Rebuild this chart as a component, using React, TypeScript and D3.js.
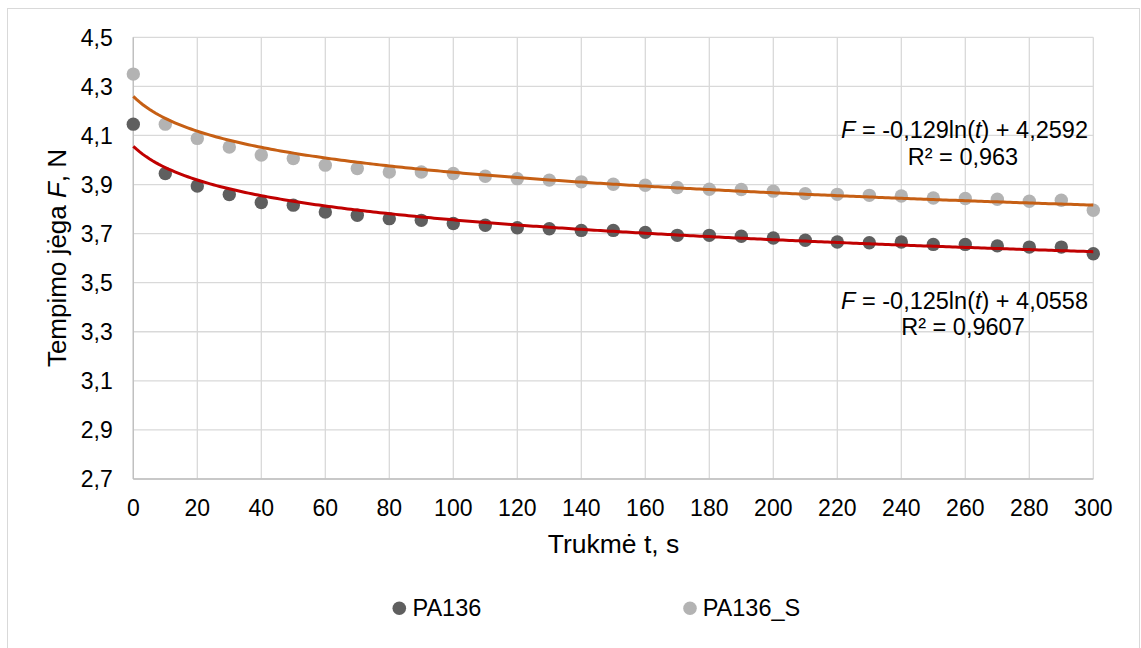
import React from "react";
import * as d3 from "d3";

const times = [0, 10, 20, 30, 40, 50, 60, 70, 80, 90, 100, 110, 120, 130, 140, 150, 160, 170, 180, 190, 200, 210, 220, 230, 240, 250, 260, 270, 280, 290, 300];
const pa136 = [4.146, 3.945, 3.894, 3.859, 3.827, 3.816, 3.788, 3.775, 3.761, 3.754, 3.741, 3.734, 3.724, 3.72, 3.713, 3.713, 3.705, 3.693, 3.693, 3.689, 3.682, 3.673, 3.666, 3.663, 3.666, 3.656, 3.656, 3.65, 3.645, 3.645, 3.618];
const pa136S = [4.35, 4.146, 4.088, 4.053, 4.02, 4.006, 3.979, 3.965, 3.951, 3.951, 3.945, 3.934, 3.924, 3.918, 3.911, 3.901, 3.897, 3.888, 3.881, 3.88, 3.873, 3.863, 3.86, 3.856, 3.853, 3.845, 3.843, 3.84, 3.832, 3.836, 3.795];
const seriesNames = ["PA136", "PA136_S"];
// logarithmic trend coefficients (fit over point index 1..31): F = a ln(i) + b
const trendA = [-0.125, -0.129];
const trendB = [4.0558, 4.2592];
const eqLabels = ["-0,125ln(", "-0,129ln("];
const eqConst = ["4,0558", "4,2592"];
const r2Labels = ["R² = 0,9607", "R² = 0,963"];
const xTicks = d3.range(0, 301, 20);
const yTicks = [2.7, 2.9, 3.1, 3.3, 3.5, 3.7, 3.9, 4.1, 4.3, 4.5];

const W = 1141;
const H = 648;
const FONT = "'Liberation Sans', Arial, sans-serif";

export default function App() {
  const x = d3.scaleLinear().domain([0, 300]).range([133.3, 1093.3]);
  const y = d3.scaleLinear().domain([2.7, 4.5]).range([479, 37.3]);
  const pointColors = ["#5f5f5f", "#b3b3b3"];
  const lineColors = ["#c00000", "#c65f14"];
  const series = [pa136, pa136S];
  const fmt = (v: number) => v.toFixed(1).replace(".", ",");

  const tSamples = d3.range(0, 300.5, 1);
  const line = d3
    .line<number>()
    .x((t) => x(t))
    .y((t) => 0)
    .curve(d3.curveLinear);

  const trendPath = (k: number) =>
    d3
      .line<number>()
      .x((t) => x(t))
      .y((t) => y(trendA[k] * Math.log(t / 10 + 1) + trendB[k]))(tSamples) || "";

  const eqPos = [
    { x: 1088, y1: 309, y2: 335 },
    { x: 1088, y1: 138, y2: 165 },
  ];

  return (
    <svg width={W} height={H} style={{ position: "absolute", left: 0, top: 0, background: "#fff" }} fontFamily={FONT}>
      <rect x={7.5} y={8.5} width={1132} height={650} fill="#fff" stroke="#d9d9d9" strokeWidth={1} />
      {/* gridlines */}
      {yTicks.map((v) => (
        <line key={"gy" + v} x1={x(0)} x2={x(300)} y1={y(v)} y2={y(v)} stroke="#d9d9d9" strokeWidth={1.3} />
      ))}
      {xTicks.map((v) => (
        <line key={"gx" + v} x1={x(v)} x2={x(v)} y1={y(2.7)} y2={y(4.5)} stroke="#d9d9d9" strokeWidth={1.3} />
      ))}
      <line x1={x(0)} x2={x(0)} y1={y(2.7)} y2={y(4.5)} stroke="#bfbfbf" strokeWidth={1.3} />
      <line x1={x(0)} x2={x(300)} y1={y(2.7)} y2={y(2.7)} stroke="#bfbfbf" strokeWidth={1.3} />
      {/* tick labels */}
      {yTicks.map((v) => (
        <text key={"ty" + v} x={112.7} y={y(v) + 8.3} textAnchor="end" fontSize={23} fill="#000">
          {fmt(v)}
        </text>
      ))}
      {xTicks.map((v) => (
        <text key={"tx" + v} x={x(v)} y={515.5} textAnchor="middle" fontSize={23} fill="#000">
          {v}
        </text>
      ))}
      {/* points */}
      {series.map((s, k) =>
        s.map((v, i) => (
          <circle key={"p" + k + "-" + i} cx={x(times[i])} cy={y(v)} r={6.7} fill={pointColors[k]} />
        ))
      )}
      {/* trend lines */}
      {[1, 0].map((k) => (
        <path key={"tr" + k} d={trendPath(k)} fill="none" stroke={lineColors[k]} strokeWidth={3} />
      ))}
      {/* equations */}
      {[0, 1].map((k) => (
        <g key={"eq" + k} fontSize={23.5} fill="#000">
          <text x={eqPos[k].x} y={eqPos[k].y1} textAnchor="end">
            <tspan fontStyle="italic">F</tspan>
            {" = " + eqLabels[k]}
            <tspan fontStyle="italic">t</tspan>
            {") + " + eqConst[k]}
          </text>
          <text x={963} y={eqPos[k].y2} textAnchor="middle">
            {r2Labels[k]}
          </text>
        </g>
      ))}
      {/* axis titles */}
      <text x={613.5} y={553} textAnchor="middle" fontSize={26.5} fill="#000">
        Trukmė t, s
      </text>
      <text transform="translate(66,258) rotate(-90)" textAnchor="middle" fontSize={26} fill="#000">
        Tempimo jėga <tspan fontStyle="italic">F</tspan>, N
      </text>
      {/* legend */}
      {[0, 1].map((k) => (
        <g key={"lg" + k}>
          <circle cx={[399.3, 690][k]} cy={608.3} r={6.8} fill={pointColors[k]} />
          <text x={[412.5, 702.7][k]} y={616} fontSize={23.5} fill="#000">
            {seriesNames[k]}
          </text>
        </g>
      ))}
    </svg>
  );
}
